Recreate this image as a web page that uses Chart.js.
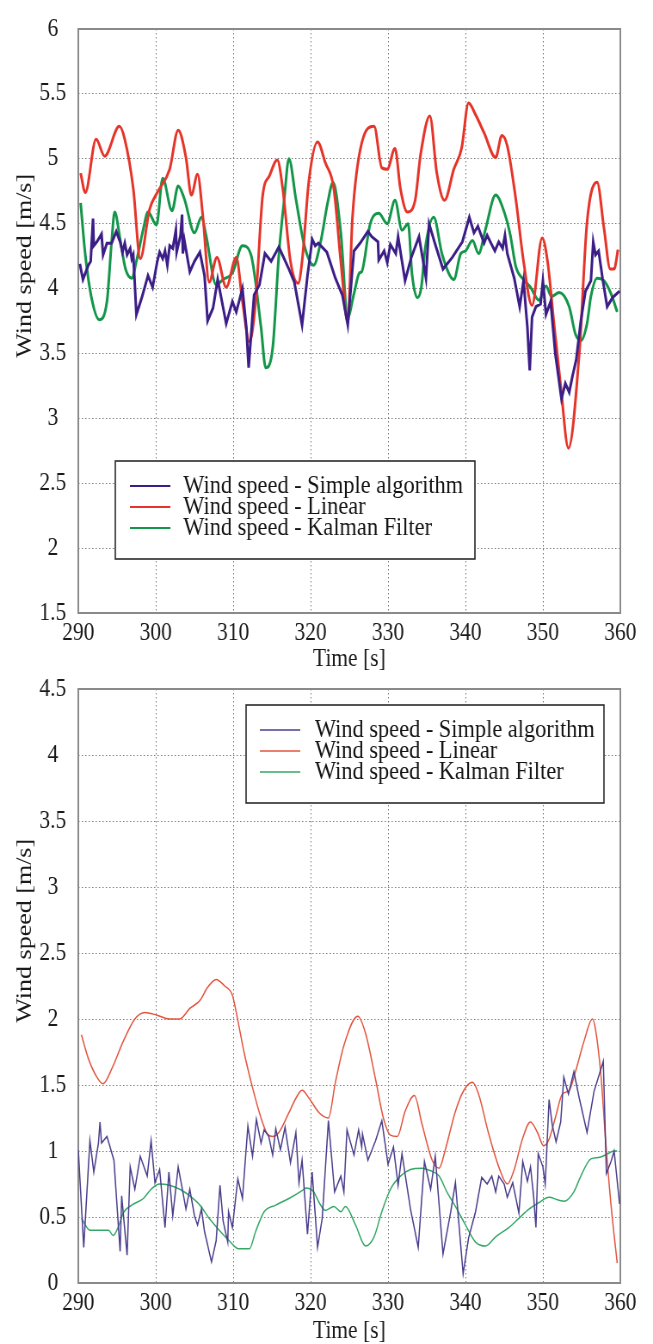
<!DOCTYPE html>
<html>
<head>
<meta charset="utf-8">
<script src="https://cdn.jsdelivr.net/npm/chart.js@4.4.0/dist/chart.umd.min.js"></script>
<style>
  html, body { margin: 0; padding: 0; background: #fff; }
  body { width: 653px; height: 1344px; position: relative; overflow: hidden; }
  canvas { position: absolute; left: 0; }
  #top { top: 0; }
  #bottom { top: 660px; }
</style>
</head>
<body>
<!-- drawn wider and squeezed to 653px, the source figure's lettering is condensed -->
<canvas id="top" width="759" height="672" style="width:653px;height:672px"></canvas>
<canvas id="bottom" width="759" height="684" style="width:653px;height:684px"></canvas>
<script>
// ---- data: upper figure ----
const topSimpleT = [
  290.2,290.6,291.3,291.6,291.9,292.0,292.4,293.0,293.2,293.7,
  294.3,294.9,295.4,295.7,296.0,296.3,296.7,296.9,297.1,297.5,
  298.2,299.0,299.6,300.2,300.5,300.9,301.2,301.5,301.8,302.2,
  302.6,302.7,303.2,303.4,303.5,303.7,304.4,305.0,305.7,306.3,
  306.7,307.4,308.0,309.1,309.9,310.4,311.2,311.7,312.0,312.7,
  313.4,314.1,314.9,315.9,317.2,317.9,318.9,319.6,320.0,320.2,
  320.6,321.0,322.1,323.2,324.1,324.8,325.6,326.4,327.4,327.9,
  328.7,328.8,329.5,329.9,330.3,331.0,331.3,332.2,333.0,334.0,
  334.9,335.3,336.1,337.1,338.3,339.6,340.5,341.1,341.6,342.4,
  342.8,343.3,343.8,344.3,344.8,345.1,345.4,346.3,347.0,347.5,
  348.0,348.3,348.6,349.1,349.7,350.0,350.4,351.0,351.6,352.4,
  352.9,353.4,353.8,354.3,354.9,355.5,356.2,356.5,356.8,357.2,
  357.7,358.3,359.0,359.9
];
const topSimpleV = [
  4.19,4.07,4.18,4.21,4.54,4.33,4.36,4.42,4.26,4.35,
  4.35,4.44,4.36,4.28,4.35,4.26,4.31,4.23,4.26,3.80,
  3.93,4.10,4.01,4.21,4.28,4.23,4.29,4.18,4.33,4.31,
  4.45,4.28,4.41,4.57,4.27,4.37,4.13,4.21,4.28,4.10,
  3.75,3.85,4.07,3.73,3.90,3.82,4.00,3.70,3.39,3.95,
  4.03,4.27,4.21,4.32,4.15,4.05,3.72,4.10,4.28,4.38,
  4.33,4.35,4.28,4.08,3.95,3.72,4.29,4.35,4.44,4.40,
  4.36,4.22,4.29,4.20,4.34,4.27,4.40,4.06,4.24,4.40,
  4.08,4.50,4.34,4.15,4.24,4.36,4.55,4.43,4.48,4.35,
  4.41,4.35,4.29,4.36,4.31,4.41,4.27,4.08,3.86,4.06,
  3.70,3.37,3.78,3.86,3.88,4.06,3.80,3.90,3.50,3.15,
  3.27,3.20,3.32,3.45,3.75,3.98,4.06,4.36,4.26,4.29,
  4.08,3.86,3.93,3.98
];
const topLinearT = [
  290.3,290.9,292.3,293.4,295.3,296.0,297.1,298.0,299.2,300.2,
  301.8,302.9,303.9,304.6,305.4,306.1,306.9,307.9,309.1,310.4,
  311.2,312.1,312.9,313.8,314.7,315.7,316.4,317.4,318.4,318.9,
  319.8,320.9,321.9,323.0,323.9,324.8,325.4,326.6,328.2,329.2,
  329.9,330.9,331.6,332.5,333.5,334.2,335.4,336.3,337.3,338.5,
  339.5,340.4,341.3,342.4,343.9,344.7,345.4,346.5,347.5,348.6,
  349.9,350.6,351.4,352.3,353.3,354.7,355.7,357.0,357.9,358.7,
  359.2,359.7
];
const topLinearV = [
  4.89,4.74,5.15,5.02,5.25,5.15,4.77,4.23,4.61,4.74,
  4.92,5.22,5.01,4.72,4.88,4.55,4.05,4.24,4.01,4.24,
  3.90,3.59,3.90,4.71,4.87,4.99,4.77,4.21,4.04,4.21,
  4.84,5.13,4.97,4.77,4.21,3.74,4.54,5.12,5.25,4.93,
  4.92,5.08,4.77,4.59,4.68,5.03,5.33,4.89,4.68,4.92,
  5.08,5.43,5.34,5.20,5.01,5.18,5.10,4.69,4.21,3.87,
  4.39,4.21,3.75,3.25,2.77,3.50,4.51,4.82,4.46,4.15,
  4.15,4.30
];
const topKalmanT = [
  290.3,290.9,291.7,292.7,293.7,294.3,294.7,295.4,296.1,296.9,
  297.5,298.4,299.0,300.1,300.9,302.1,302.9,303.7,305.0,305.9,
  306.5,307.8,308.7,309.9,311.2,312.3,313.6,314.2,315.1,315.9,
  316.6,317.2,318.1,319.2,320.4,321.3,322.2,322.9,323.9,324.8,
  325.6,326.3,326.6,327.7,328.8,329.9,330.9,331.8,332.6,333.1,
  333.8,334.3,334.8,335.9,337.0,338.5,339.4,340.0,340.9,341.7,
  342.6,343.9,345.0,345.8,346.5,347.5,348.4,349.5,350.4,351.1,
  352.1,353.4,354.2,354.9,355.7,356.2,357.0,357.9,358.8,359.6
];
const topKalmanV = [
  4.66,4.26,3.93,3.76,3.90,4.36,4.59,4.38,4.15,4.08,
  4.21,4.46,4.59,4.49,4.85,4.60,4.79,4.69,4.43,4.55,
  4.41,4.03,4.07,4.12,4.33,4.26,3.70,3.39,3.54,4.26,
  4.69,5.00,4.69,4.33,4.18,4.36,4.66,4.82,4.43,3.78,
  3.96,4.12,4.13,4.50,4.58,4.50,4.68,4.45,4.50,4.11,
  3.93,4.01,4.31,4.55,4.26,4.07,4.27,4.29,4.37,4.27,
  4.46,4.72,4.59,4.41,4.17,4.07,4.01,3.91,4.02,3.94,
  3.97,3.86,3.65,3.60,3.73,3.94,4.08,4.06,3.96,3.82
];

// ---- data: lower figure ----
const botSimpleT = [
  290.0,290.7,291.5,292.0,292.6,292.8,293.0,293.7,294.6,295.4,
  295.6,296.3,296.7,297.3,298.0,298.9,299.4,299.9,300.5,301.2,
  301.7,302.2,302.9,303.5,303.9,304.4,305.0,305.4,305.9,306.3,
  307.2,307.8,308.3,308.7,309.3,309.4,309.9,310.6,311.2,311.9,
  312.5,313.0,313.6,314.0,314.6,315.1,315.5,316.1,316.7,317.4,
  318.1,318.5,318.9,319.6,320.2,320.9,321.5,322.3,323.1,323.9,
  324.3,324.7,325.6,326.2,326.6,326.7,327.4,328.4,329.2,330.0,
  330.7,331.3,331.8,332.9,333.9,334.7,335.5,336.1,337.1,338.1,
  338.7,339.7,340.4,341.3,342.1,342.8,343.4,343.9,344.3,345.0,
  345.4,346.1,346.9,347.4,348.0,348.4,348.8,349.1,349.4,350.0,
  350.3,350.8,351.2,351.7,352.3,352.7,353.3,354.0,354.7,355.7,
  356.6,357.8,358.2,358.8,359.2,359.9
];
const botSimpleV = [
  1.01,0.27,1.08,0.84,1.06,1.22,1.06,1.11,0.93,0.24,
  0.66,0.21,0.88,0.71,0.96,0.81,1.08,0.76,0.86,0.42,
  0.84,0.51,0.88,0.69,0.56,0.71,0.51,0.44,0.56,0.39,
  0.16,0.32,0.74,0.47,0.31,0.54,0.42,0.79,0.64,1.19,
  0.96,1.24,1.06,1.16,1.11,0.97,1.17,1.01,1.18,0.91,
  1.14,0.76,0.93,0.37,0.84,0.27,0.49,1.23,0.69,0.81,
  0.69,1.16,0.97,1.16,1.03,1.13,0.93,1.08,1.23,0.90,
  1.03,0.74,0.98,0.56,0.27,0.92,0.71,0.96,0.22,0.54,
  0.76,0.07,0.34,0.54,0.80,0.75,0.81,0.69,0.81,0.75,
  0.65,0.76,0.53,0.92,0.77,0.88,0.66,0.42,0.98,0.88,
  0.75,1.39,1.20,1.07,1.22,1.56,1.43,1.60,1.40,1.14,
  1.45,1.68,0.83,0.92,1.00,0.60
];
const botLinearT = [
  290.4,291.3,292.4,293.2,294.3,295.8,297.3,298.6,300.1,301.8,
  303.1,304.4,305.7,306.7,307.8,308.9,309.9,310.6,311.4,312.5,
  313.6,314.4,315.1,315.9,317.2,318.1,318.9,319.8,321.1,322.3,
  323.2,324.3,326.1,327.1,328.4,329.4,330.3,331.2,332.2,333.4,
  334.4,335.7,336.6,337.4,338.7,339.8,340.9,341.7,343.0,344.3,
  345.4,346.3,347.3,348.4,349.3,350.1,350.8,351.6,352.5,353.4,
  354.2,355.3,356.4,356.8,357.5,358.1,358.8,359.6
];
const botLinearV = [
  1.88,1.70,1.56,1.51,1.62,1.83,2.00,2.05,2.03,2.00,
  2.00,2.08,2.14,2.24,2.30,2.25,2.18,1.99,1.75,1.48,
  1.25,1.13,1.11,1.14,1.29,1.40,1.46,1.40,1.29,1.25,
  1.52,1.80,2.02,1.89,1.54,1.25,1.12,1.11,1.30,1.42,
  1.20,0.93,0.87,1.01,1.30,1.46,1.52,1.43,1.13,0.88,
  0.75,0.86,1.08,1.22,1.14,1.04,1.09,1.25,1.43,1.46,
  1.60,1.83,2.00,1.92,1.57,1.08,0.59,0.15
];
const botKalmanT = [
  290.4,291.5,293.9,294.5,295.2,295.8,296.9,298.4,299.4,300.5,
  301.8,303.1,304.4,305.7,306.9,308.2,309.5,310.7,312.1,312.9,
  314.0,315.5,317.2,318.9,319.4,320.4,321.1,321.9,323.0,323.9,
  324.5,325.8,327.1,328.2,329.2,330.3,331.6,332.9,334.4,335.5,
  336.6,337.6,338.9,340.0,341.3,342.6,343.9,345.6,346.9,348.2,
  349.5,350.8,351.9,352.8,354.0,354.9,356.2,357.2,358.1,359.2,
  359.6
];
const botKalmanV = [
  0.49,0.40,0.40,0.36,0.43,0.53,0.59,0.64,0.71,0.75,
  0.74,0.71,0.66,0.59,0.49,0.40,0.32,0.26,0.26,0.39,
  0.54,0.59,0.64,0.70,0.72,0.69,0.61,0.55,0.58,0.54,
  0.58,0.44,0.28,0.35,0.54,0.71,0.81,0.86,0.87,0.85,
  0.81,0.69,0.56,0.44,0.31,0.28,0.35,0.42,0.49,0.56,
  0.61,0.65,0.63,0.62,0.69,0.81,0.94,0.95,0.97,1.00,
  1.00
];

const seriesNames = ['Wind speed - Simple algorithm', 'Wind speed - Linear', 'Wind speed - Kalman Filter'];

Chart.defaults.font.family = "'Liberation Serif', 'Times New Roman', serif";
Chart.defaults.color = '#1a1a1a';

function pts(T, V) {
  return T.map((t, i) => ({ x: t, y: V[i] }));
}

// grey frame round the plot area
const framePlugin = {
  id: 'frame',
  beforeDatasetsDraw(chart) {
    const { ctx, chartArea: a } = chart;
    ctx.save();
    ctx.strokeStyle = '#8a8a8a';
    ctx.lineWidth = 2;
    ctx.strokeRect(a.left, a.top, a.right - a.left, a.bottom - a.top);
    ctx.restore();
  }
};

// boxed legend inside the plot
const boxLegend = {
  id: 'boxLegend',
  afterDatasetsDraw(chart, args, o) {
    const { ctx, chartArea: a } = chart;
    const x = a.left + o.x, y = a.top + o.y;
    ctx.save();
    ctx.fillStyle = '#fff';
    ctx.fillRect(x, y, o.w, o.h);
    ctx.strokeStyle = '#2a2a2a';
    ctx.lineWidth = o.border;
    ctx.strokeRect(x, y, o.w, o.h);
    ctx.font = o.size + "px 'Liberation Serif', 'Times New Roman', serif";
    ctx.textBaseline = 'middle';
    chart.data.datasets.forEach((ds, i) => {
      const ry = y + o.rows[i];
      ctx.strokeStyle = ds.borderColor;
      ctx.lineWidth = o.lineWidth;
      ctx.beginPath();
      ctx.moveTo(x + o.line[0], ry);
      ctx.lineTo(x + o.line[1], ry);
      ctx.stroke();
      ctx.fillStyle = '#141414';
      ctx.fillText(ds.label, x + o.textX, ry);
    });
    ctx.restore();
  }
};

function makeOptions(cfg) {
  const grid = { color: '#7a7a7a', lineWidth: 1, drawTicks: false };
  const border = { display: false, dash: [1.5, 2.5] };
  return {
    responsive: false,
    animation: false,
    layout: { padding: { top: cfg.padTop, right: 38, bottom: 0, left: 0 } },
    plugins: {
      legend: { display: false },
      tooltip: { enabled: false },
      boxLegend: cfg.legend
    },
    elements: { point: { radius: 0 } },
    scales: {
      x: {
        type: 'linear',
        min: 290,
        max: 360,
        afterFit: s => { s.height = cfg.xHeight; },
        ticks: { stepSize: 10, autoSkip: false, maxRotation: 0, padding: 5, font: { size: 25 } },
        grid: grid,
        border: border,
        title: { display: true, text: 'Time [s]', font: { size: 25, lineHeight: 1 }, padding: 0 }
      },
      y: {
        min: cfg.yMin,
        max: cfg.yMax,
        afterFit: s => { s.width = 91; },
        ticks: {
          stepSize: 0.5,
          crossAlign: 'center',
          padding: 14,
          font: { size: 25 },
          callback: v => String(Math.round(v * 10) / 10)
        },
        grid: grid,
        border: border,
        title: {
          display: true,
          // leading blanks lift the label above the middle, as in the source
          text: ' '.repeat(17) + 'Wind speed [m/s]',
          font: { size: 26, lineHeight: 1 },
          padding: { top: 16, bottom: 0 }
        }
      }
    }
  };
}

new Chart(document.getElementById('top'), {
  type: 'line',
  data: {
    datasets: [
      { label: seriesNames[0], data: pts(topSimpleT, topSimpleV), borderColor: '#3c1e87', borderWidth: 3, tension: 0 },
      { label: seriesNames[1], data: pts(topLinearT, topLinearV), borderColor: '#e5352a', borderWidth: 3, cubicInterpolationMode: 'monotone' },
      { label: seriesNames[2], data: pts(topKalmanT, topKalmanV), borderColor: '#14964a', borderWidth: 3, cubicInterpolationMode: 'monotone' }
    ]
  },
  options: makeOptions({
    yMin: 1.5, yMax: 6, padTop: 17, xHeight: 59,
    legend: { x: 43, y: 432, w: 418, h: 98, rows: [25, 46, 67], line: [17, 64], textX: 79, size: 26, lineWidth: 2.2, border: 1.6 }
  }),
  plugins: [framePlugin, boxLegend]
});

new Chart(document.getElementById('bottom'), {
  type: 'line',
  data: {
    datasets: [
      { label: seriesNames[0], data: pts(botSimpleT, botSimpleV), borderColor: '#4a3f8c', borderWidth: 1.5, tension: 0 },
      { label: seriesNames[1], data: pts(botLinearT, botLinearV), borderColor: '#e2553f', borderWidth: 1.5, cubicInterpolationMode: 'monotone' },
      { label: seriesNames[2], data: pts(botKalmanT, botKalmanV), borderColor: '#35a866', borderWidth: 1.5, cubicInterpolationMode: 'monotone' }
    ]
  },
  options: makeOptions({
    yMin: 0, yMax: 4.5, padTop: 20, xHeight: 61,
    legend: { x: 195, y: 16, w: 416, h: 98, rows: [25, 46, 67], line: [16, 63], textX: 80, size: 26, lineWidth: 1.6, border: 1.6 }
  }),
  plugins: [framePlugin, boxLegend]
});
</script>
</body>
</html>
